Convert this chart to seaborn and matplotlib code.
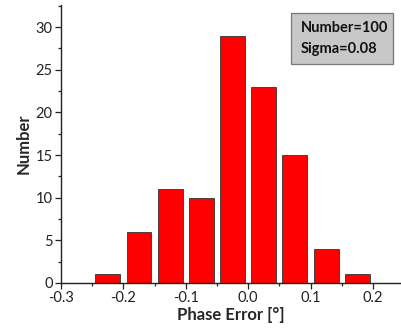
import matplotlib
matplotlib.use("Agg")
import matplotlib.pyplot as plt
import seaborn as sns
import numpy as np
import pandas as pd
from matplotlib.ticker import MultipleLocator
from matplotlib.patches import Rectangle

bin_centers = [-0.225, -0.175, -0.125, -0.075, -0.025, 0.025, 0.075, 0.125, 0.175]
counts = [1, 6, 11, 10, 29, 23, 15, 4, 1]
x_ticks = [-0.3, -0.2, -0.1, 0.0, 0.1, 0.2]
y_ticks = [0, 5, 10, 15, 20, 25, 30]
stats_lines = ["Number=100", "Sigma=0.08"]

sns.set_theme(style="ticks")
plt.rcParams['font.family'] = ['Lato', 'DejaVu Sans']

df = pd.DataFrame({"Phase Error": bin_centers, "Number": counts})

W, H = 402, 331
fig = plt.figure(figsize=(W / 100, H / 100), dpi=100)
ax = fig.add_axes([61 / W, 1 - 283 / H, 340 / W, 278 / H])
sns.barplot(data=df, x="Phase Error", y="Number", native_scale=True, width=0.8,
            color="#ff0000", saturation=1, edgecolor="#333333", linewidth=0.6, ax=ax)

ax.set_xlim(-0.3, 0.245)
ax.set_ylim(0, 32.6)
ax.set_xticks(x_ticks)
ax.set_xticklabels([f"{v:.1f}" for v in x_ticks])
ax.set_yticks(y_ticks)
ax.xaxis.set_minor_locator(MultipleLocator(0.05))
ax.yaxis.set_minor_locator(MultipleLocator(2.5))
ax.tick_params(axis='both', which='major', direction='out', length=4, width=0.9,
               labelsize=10.5, colors='#222222', pad=2)
ax.tick_params(axis='both', which='minor', direction='out', length=2.5, width=0.9)
for s in ['top', 'right']:
    ax.spines[s].set_visible(False)
for s in ['left', 'bottom']:
    ax.spines[s].set_linewidth(1.0)
    ax.spines[s].set_color('#222222')

ax.set_xlabel("Phase Error [°]", fontsize=12, fontweight='bold', labelpad=1)
ax.set_ylabel("Number", fontsize=12, fontweight='bold', labelpad=3)

# stats box
bx0, by0, bx1, by1 = 291, 13, 393, 64
fig.patches.append(Rectangle((bx0 / W, 1 - by1 / H), (bx1 - bx0) / W, (by1 - by0) / H,
                             transform=fig.transFigure, facecolor='#c8c8c8',
                             edgecolor='#777777', linewidth=0.9, zorder=5))
fig.text(301 / W, 1 - 28 / H, stats_lines[0], fontsize=10.5, fontweight='bold',
         color='#111111', va='center', ha='left', zorder=6)
fig.text(301 / W, 1 - 49 / H, stats_lines[1], fontsize=10.5, fontweight='bold',
         color='#111111', va='center', ha='left', zorder=6)

fig.savefig("out.png", dpi=100)
